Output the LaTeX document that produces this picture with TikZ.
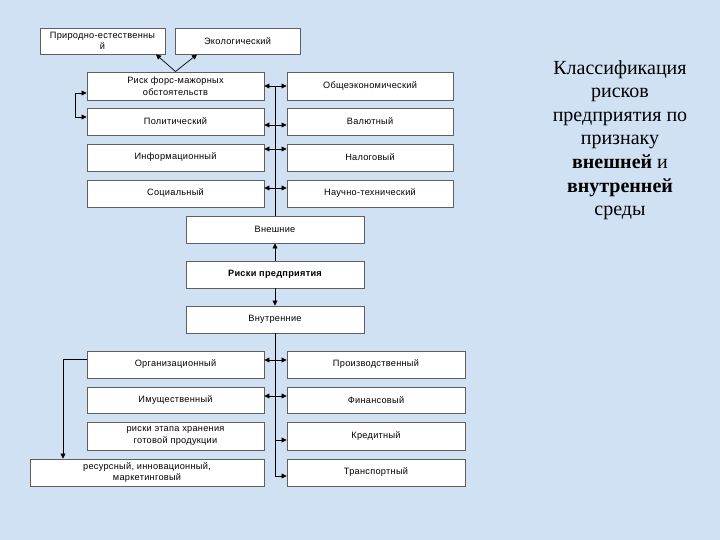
\documentclass[tikz,border=0pt]{standalone}
\usepackage{fontspec}
\setmainfont{Liberation Serif}
\newfontfamily\boxfont[LetterSpace=3]{Liberation Sans}
\usetikzlibrary{arrows.meta}
\definecolor{bgblue}{RGB}{208,225,244}
\definecolor{boxline}{RGB}{95,95,95}
\tikzset{
  x=1pt, y=-1pt,
  rbox/.style={draw=boxline, line width=0.9pt, fill=white, inner sep=1pt, align=center,
    font=\boxfont\fontsize{9.2}{11.5}\selectfont},
  conn/.style={draw=black, line width=0.7pt, >={Triangle[length=5pt,width=5pt]}},
}
\begin{document}
\begin{tikzpicture}
\fill[bgblue] (0,0) rectangle (720,540);
\useasboundingbox (0,0) rectangle (720,540);

% top row
\node[rbox, minimum width=125pt, minimum height=26pt] (nat) at (102.5,41) {Природно-естественны\\й};
\node[rbox, minimum width=125pt, minimum height=26pt] (eco) at (237.5,41) {Экологический};

% external risks
\node[rbox, minimum width=177pt, minimum height=28pt] (fm) at (175.5,86) {Риск форс-мажорных\\обстоятельств};
\node[rbox, minimum width=166pt, minimum height=28pt] (gen) at (370,86) {Общеэкономический};
\node[rbox, minimum width=177pt, minimum height=27pt] (pol) at (175.5,121.5) {Политический};
\node[rbox, minimum width=166pt, minimum height=27pt] (val) at (370,121.5) {Валютный};
\node[rbox, minimum width=177pt, minimum height=27pt] (inf) at (175.5,157.5) {Информационный};
\node[rbox, minimum width=166pt, minimum height=27pt] (tax) at (370,157.5) {Налоговый};
\node[rbox, minimum width=177pt, minimum height=27pt] (soc) at (175.5,193.5) {Социальный};
\node[rbox, minimum width=166pt, minimum height=27pt] (sci) at (370,193.5) {Научно-технический};

% center column
\node[rbox, minimum width=178pt, minimum height=27pt] (ext) at (275,229.5) {Внешние};
\node[rbox, minimum width=178pt, minimum height=27pt, font=\boxfont\bfseries\fontsize{9.2}{11.5}\selectfont] (ent) at (275,274.5) {Риски предприятия};
\node[rbox, minimum width=178pt, minimum height=27pt] (int) at (275,319.5) {Внутренние};

% internal risks
\node[rbox, minimum width=177pt, minimum height=27pt] (org) at (175.5,364.5) {Организационный};
\node[rbox, minimum width=178pt, minimum height=27pt] (prod) at (376,364.5) {Производственный};
\node[rbox, minimum width=177pt, minimum height=26pt] (prop) at (175.5,400) {Имущественный};
\node[rbox, minimum width=178pt, minimum height=26pt] (fin) at (376,400) {Финансовый};
\node[rbox, minimum width=177pt, minimum height=28pt] (stor) at (175.5,436) {риски этапа хранения\\готовой продукции};
\node[rbox, minimum width=178pt, minimum height=28pt] (cred) at (376,436) {Кредитный};
\node[rbox, minimum width=234pt, minimum height=27pt] (res) at (147,472.5) {ресурсный, инновационный,\\маркетинговый};
\node[rbox, minimum width=178pt, minimum height=27pt] (tr) at (376,472.5) {Транспортный};

% title
\node[align=center, font=\fontsize{20}{23.6}\selectfont] (title) at (620,140)
  {Классификация\\рисков\\предприятия по\\признаку\\\textbf{внешней} и\\\textbf{внутренней}\\среды};

% connectors top
\draw[conn,->] (fm.north) -- ([xshift=53.5pt]nat.south);
\draw[conn,->] (fm.north) -- ([xshift=-40.5pt]eco.south);
\draw[conn,<->] ([yshift=-7pt]fm.west) -- ++(-11,0) |- ([yshift=4.5pt]pol.west);

% upper trunk
\draw[conn] (ext.north) -- (ext.north |- gen.west);
\draw[conn,<->] (fm.east) -- (gen.west);
\draw[conn,<->] ([yshift=-3.5pt]pol.east) -- ([yshift=-3.5pt]val.west);
\draw[conn,<->] ([yshift=8.5pt]inf.east) -- ([yshift=8.5pt]tax.west);
\draw[conn,<->] ([yshift=5.5pt]soc.east) -- ([yshift=5.5pt]sci.west);

% center
\draw[conn,->] (ent.north) -- (ext.south);
\draw[conn,->] (ent.south) -- (int.north);

% lower trunk
\draw[conn,->] (int.south) |- ([yshift=-3.5pt]tr.west);
\draw[conn,<->] ([yshift=4.5pt]org.east) -- ([yshift=4.5pt]prod.west);
\draw[conn,<->] ([yshift=4pt]prop.east) -- ([yshift=4pt]fin.west);
\coordinate (credbr) at ([yshift=-4pt]cred.west -| int.south);
\draw[conn,->] (credbr) -- ([yshift=-4pt]cred.west);

% lower left
\draw[conn,->] ([yshift=5.5pt]org.west) -| ([xshift=-84pt]res.north);
\end{tikzpicture}
\end{document}
